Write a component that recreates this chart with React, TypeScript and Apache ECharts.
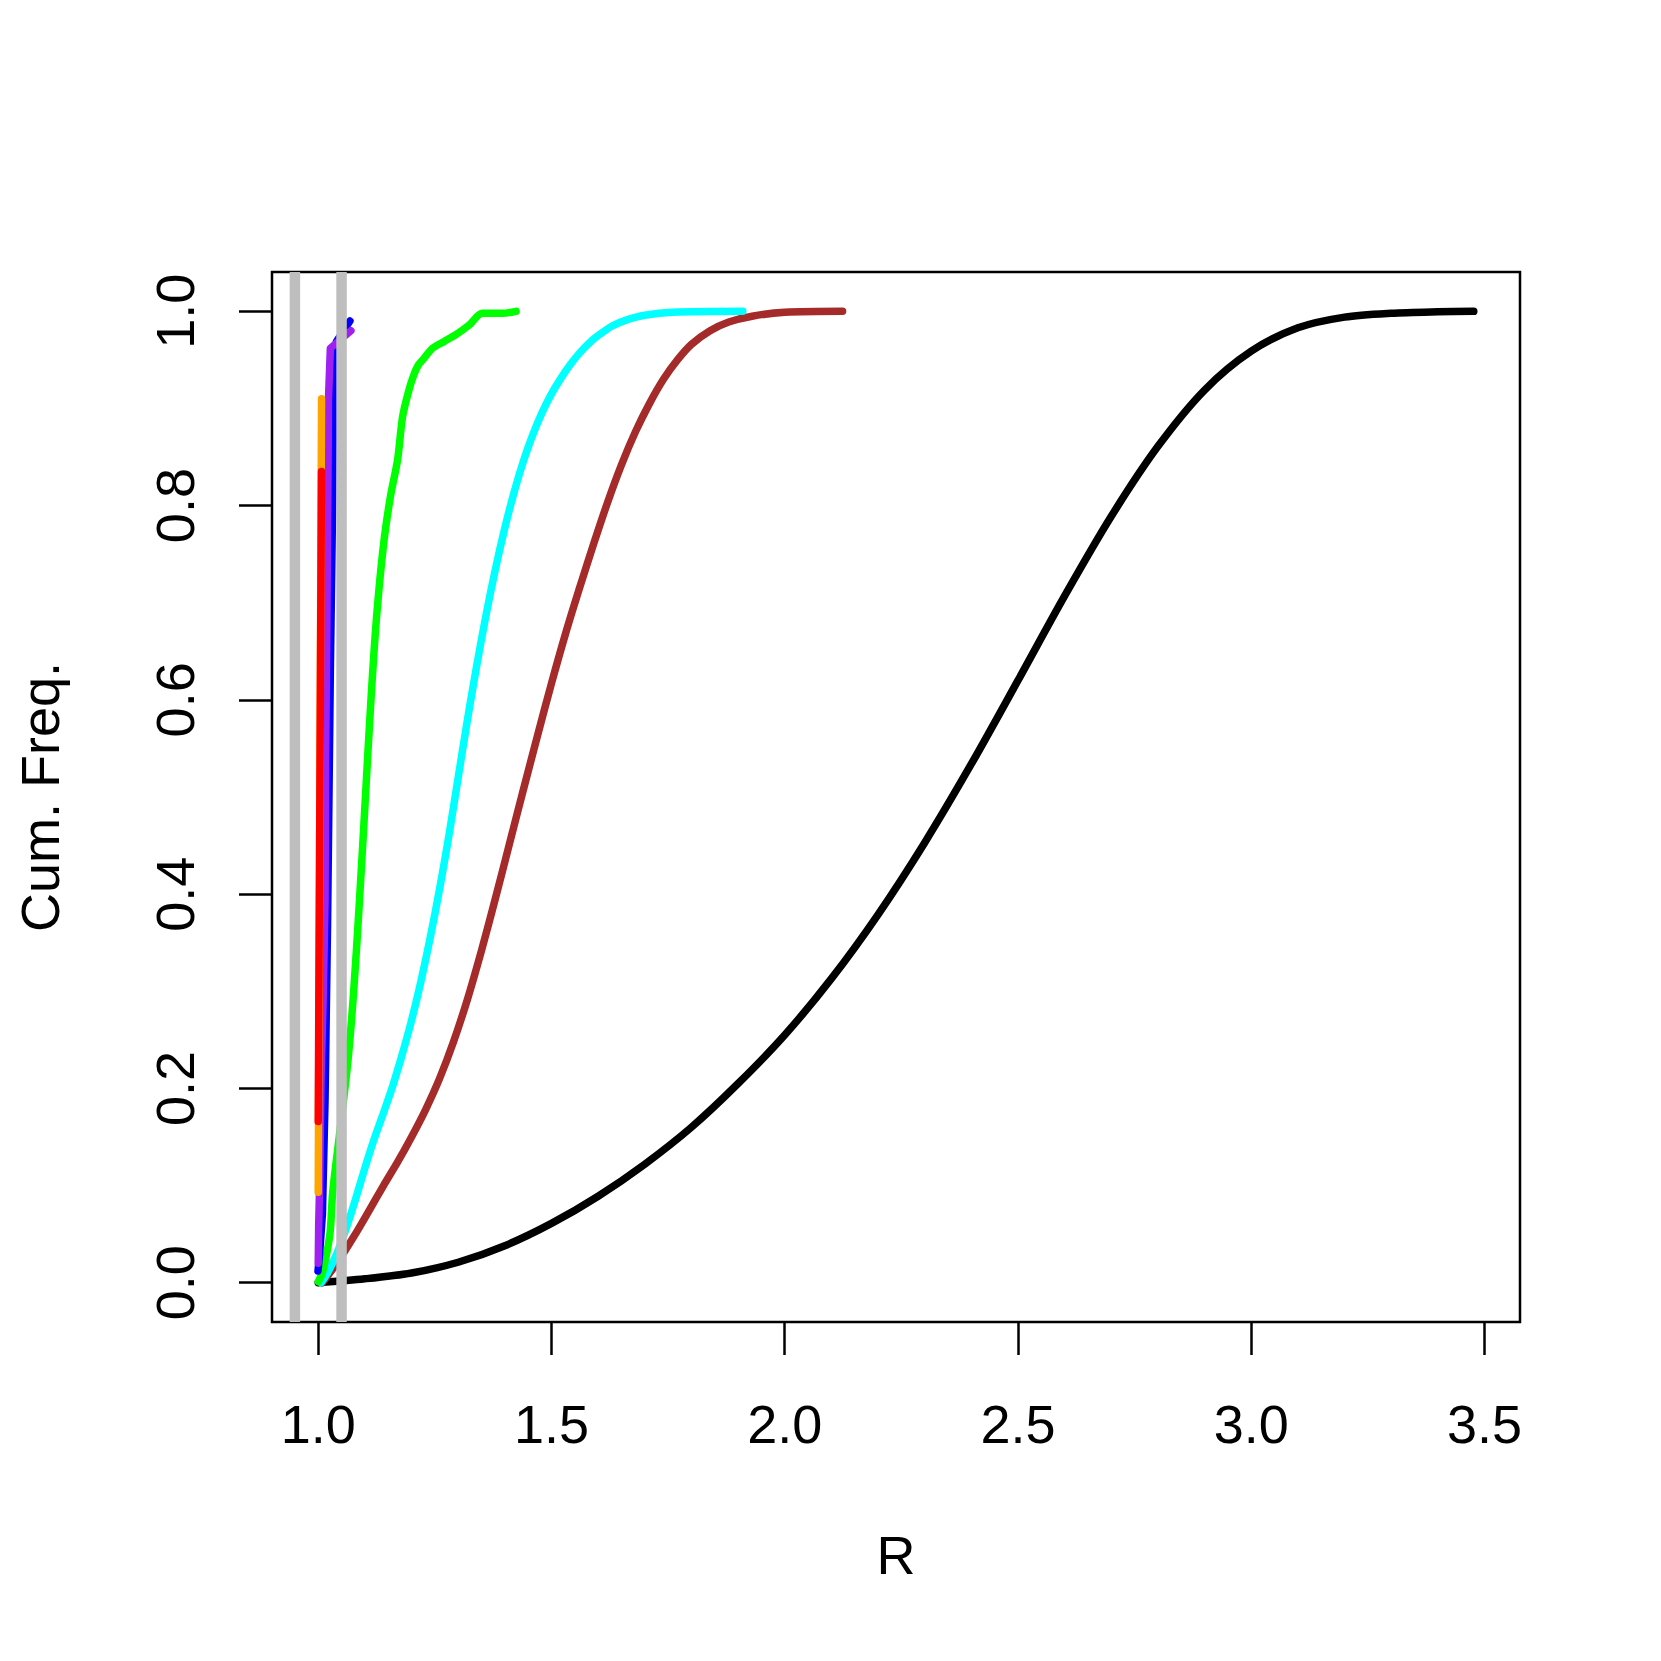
import React, { useEffect, useRef } from "react";
import * as echarts from "echarts";

// ---- data ----
const X_TICKS = [1.0, 1.5, 2.0, 2.5, 3.0, 3.5];
const Y_TICKS = [0.0, 0.2, 0.4, 0.6, 0.8, 1.0];
const X_RANGE = [0.9009, 3.5761];
const Y_RANGE = [-0.0405, 1.0405];
const GRAY_LINES = [0.95, 1.05];

const blackCurve: number[][] = [
  [1.0, 0.0], [1.1, 0.004], [1.2, 0.01], [1.3, 0.021], [1.4, 0.038], [1.5, 0.061],
  [1.6, 0.089], [1.7, 0.122], [1.8, 0.16], [1.9, 0.205], [2.0, 0.255], [2.1, 0.313],
  [2.2, 0.379], [2.3, 0.453], [2.4, 0.534], [2.5, 0.62], [2.6, 0.707], [2.7, 0.789],
  [2.8, 0.861], [2.9, 0.919], [3.0, 0.959], [3.1, 0.983], [3.2, 0.994], [3.3, 0.998],
  [3.4, 0.9995], [3.477, 1.0],
];
const brownCurve: number[][] = [
  [1.009, 0.0], [1.04, 0.02], [1.077, 0.048], [1.11, 0.075], [1.14, 0.1], [1.17, 0.124],
  [1.2, 0.15], [1.23, 0.178], [1.26, 0.21], [1.29, 0.248], [1.32, 0.292], [1.35, 0.342],
  [1.38, 0.396], [1.41, 0.452], [1.44, 0.508], [1.47, 0.563], [1.5, 0.617], [1.53, 0.668],
  [1.56, 0.715], [1.59, 0.76], [1.62, 0.803], [1.65, 0.842], [1.68, 0.876], [1.71, 0.905],
  [1.74, 0.93], [1.77, 0.95], [1.8, 0.966], [1.84, 0.98], [1.88, 0.989], [1.93, 0.995],
  [2.0, 0.999], [2.124, 1.0],
];
const cyanCurve: number[][] = [
  [1.006, 0.0], [1.02, 0.01], [1.04, 0.03], [1.06, 0.056], [1.08, 0.086], [1.1, 0.118],
  [1.12, 0.148], [1.14, 0.175], [1.16, 0.203], [1.18, 0.235], [1.2, 0.27], [1.22, 0.31],
  [1.24, 0.355], [1.26, 0.405], [1.28, 0.46], [1.3, 0.52], [1.32, 0.58], [1.34, 0.636],
  [1.36, 0.688], [1.38, 0.735], [1.4, 0.777], [1.42, 0.814], [1.44, 0.846], [1.46, 0.873],
  [1.48, 0.896], [1.5, 0.915], [1.52, 0.931], [1.54, 0.945], [1.56, 0.957], [1.58, 0.967],
  [1.6, 0.975], [1.63, 0.985], [1.66, 0.991], [1.7, 0.996], [1.76, 0.999], [1.91, 1.0],
];
const greenCurve: number[][] = [
  [1.0, 0.001], [1.01, 0.012], [1.025, 0.05], [1.031, 0.093], [1.045, 0.15], [1.064, 0.23],
  [1.076, 0.3], [1.088, 0.39], [1.1, 0.49], [1.113, 0.6], [1.125, 0.685], [1.14, 0.76],
  [1.155, 0.81], [1.17, 0.847], [1.181, 0.892], [1.195, 0.92], [1.206, 0.936],
  [1.215, 0.945], [1.224, 0.95], [1.245, 0.962], [1.27, 0.969], [1.295, 0.976],
  [1.324, 0.986], [1.352, 0.998], [1.395, 0.998], [1.424, 1.0],
];
const blueCurve: number[][] = [
  [0.9995, 0.012], [1.003, 0.03], [1.009, 0.071], [1.0146, 0.188], [1.02, 0.37],
  [1.026, 0.632], [1.031, 0.806], [1.033, 0.913], [1.039, 0.969], [1.068, 0.99],
];
const purpleCurve: number[][] = [
  [1.0, 0.02], [1.001, 0.06], [1.003, 0.1], [1.006, 0.21], [1.011, 0.3], [1.0146, 0.394],
  [1.016, 0.55], [1.018, 0.65], [1.0205, 0.806], [1.022, 0.91], [1.026, 0.962], [1.07, 0.98],
];
const orangeCurve: number[][] = [
  [1.0, 0.093], [1.0035, 0.5], [1.0071, 0.91],
];
const redCurve: number[][] = [
  [1.0, 0.166], [1.0035, 0.5], [1.007, 0.835],
];

const SERIES_DEFS = [
  { name: "black", color: "#000000", data: blackCurve, smooth: true },
  { name: "brown", color: "#A52A2A", data: brownCurve, smooth: true },
  { name: "cyan", color: "#00FFFF", data: cyanCurve, smooth: true },
  { name: "green", color: "#00FF00", data: greenCurve, smooth: true },
  { name: "blue", color: "#0000FF", data: blueCurve, smooth: false },
  { name: "purple", color: "#A020F0", data: purpleCurve, smooth: false },
  { name: "orange", color: "#FFA500", data: orangeCurve, smooth: false },
  { name: "red", color: "#FF0000", data: redCurve, smooth: false },
];

const FONT = "'Liberation Sans', Arial, Helvetica, sans-serif";

export default function App() {
  const ref = useRef<HTMLDivElement>(null);
  useEffect(() => {
    if (!ref.current) return;
    const chart = echarts.init(ref.current, null, { renderer: "svg" });
    const series: any[] = SERIES_DEFS.map((s, i) => ({
      type: "line",
      name: s.name,
      data: s.data,
      showSymbol: false,
      symbol: "none",
      smooth: s.smooth ? 0.3 : false,
      z: 2 + i * 0.01,
      lineStyle: { color: s.color, width: 7.5, cap: "round", join: "round" },
    }));
    GRAY_LINES.forEach((gx) => {
      series.push({
        type: "line",
        data: [[gx, Y_RANGE[0]], [gx, Y_RANGE[1]]],
        showSymbol: false,
        symbol: "none",
        z: 5,
        lineStyle: { color: "#BEBEBE", width: 10.5, cap: "butt" },
      });
    });
    chart.setOption({
      animation: false,
      backgroundColor: "#ffffff",
      textStyle: { fontFamily: FONT },
      grid: {
        left: 272,
        top: 272,
        right: 141,
        bottom: 339,
        show: true,
        borderColor: "#000000",
        borderWidth: 2.5,
        backgroundColor: "transparent",
      },
      xAxis: {
        type: "value",
        min: X_RANGE[0],
        max: X_RANGE[1],
        name: "R",
        nameLocation: "middle",
        nameGap: 206,
        nameTextStyle: { fontSize: 54, color: "#000", fontFamily: FONT },
        axisLine: { show: false, onZero: false },
        splitLine: { show: false },
        axisTick: {
          show: true,
          inside: false,
          length: 33,
          customValues: X_TICKS,
          lineStyle: { color: "#000", width: 2.5 },
        },
        axisLabel: {
          show: true,
          customValues: X_TICKS,
          margin: 75,
          fontSize: 54,
          color: "#000",
          fontFamily: FONT,
          formatter: (v: number) => v.toFixed(1),
        },
      },
      yAxis: {
        type: "value",
        min: Y_RANGE[0],
        max: Y_RANGE[1],
        name: "Cum. Freq.",
        nameLocation: "middle",
        nameGap: 205,
        nameRotate: 90,
        nameTextStyle: { fontSize: 54, color: "#000", fontFamily: FONT },
        axisLine: { show: false, onZero: false },
        splitLine: { show: false },
        axisTick: {
          show: true,
          inside: false,
          length: 33,
          customValues: Y_TICKS,
          lineStyle: { color: "#000", width: 2.5 },
        },
        axisLabel: {
          show: true,
          rotate: 90,
          customValues: Y_TICKS,
          margin: 70,
          fontSize: 54,
          color: "#000",
          fontFamily: FONT,
          formatter: (v: number) => v.toFixed(1),
        },
      },
      series,
    });
    return () => chart.dispose();
  }, []);
  return (
    <div
      ref={ref}
      style={{ position: "absolute", left: 0, top: 0, width: 1661, height: 1661 }}
    />
  );
}
